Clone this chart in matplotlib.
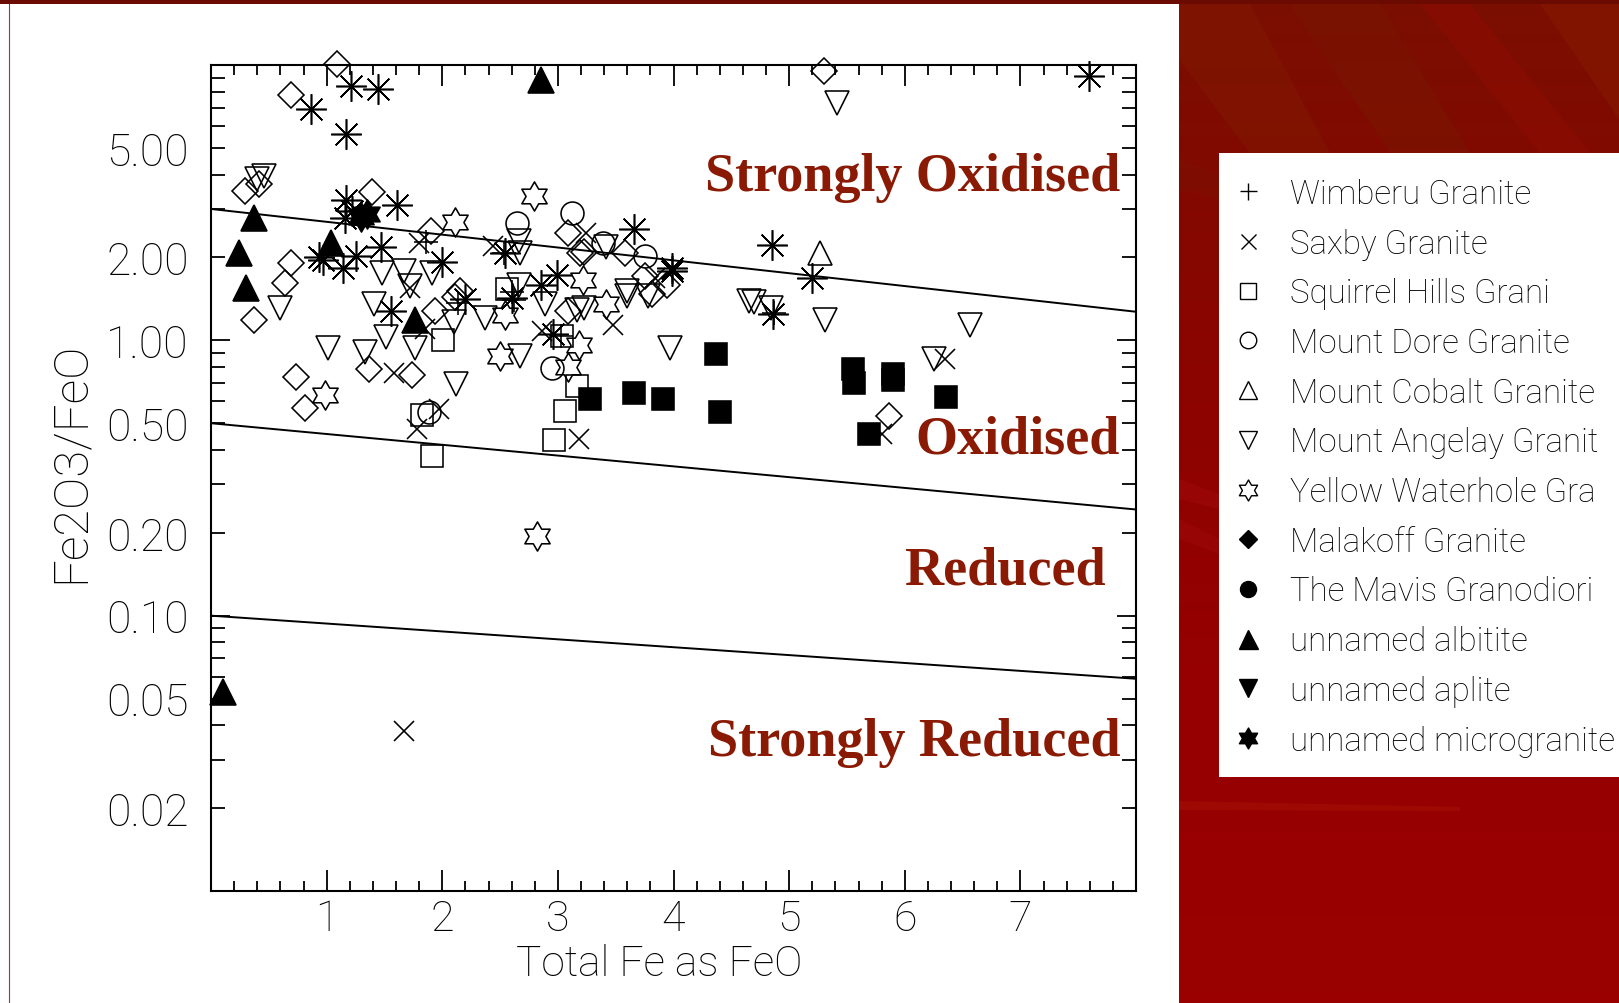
import numpy as np
import matplotlib
matplotlib.use('Agg')
import matplotlib.pyplot as plt
from matplotlib.path import Path
from matplotlib.patches import Rectangle, Polygon
from matplotlib.font_manager import FontProperties
from matplotlib.colors import LinearSegmentedColormap
from matplotlib.ticker import FixedLocator, FuncFormatter, MultipleLocator

# ---------------- data ----------------
wimberu_x = [1.86, 2.14, 2.53, 2.60, 3.03, 4.87, 2.62]
wimberu_y = [2.28, 1.37, 2.07, 1.50, 1.04, 1.26, 1.40]

saxby_x = [1.67, 1.78, 1.97, 3.18, 1.58, 5.80, 6.35, 1.80, 2.44, 3.24, 2.86, 3.48, 3.84, 1.85, 1.72]
saxby_y = [0.0382, 0.477, 0.563, 0.44, 0.764, 0.457, 0.853, 2.25, 2.20, 2.45, 1.08, 1.14, 1.69, 1.10, 1.55]

squirrel_x = [1.825, 1.91, 2.01, 2.56, 3.035, 3.165, 3.064, 2.97]
squirrel_y = [0.537, 0.379, 1.00, 1.53, 1.04, 0.684, 0.552, 0.435]

dore_x = [2.647, 3.12, 3.386, 3.755, 2.95, 1.889]
dore_y = [2.66, 2.91, 2.25, 2.03, 0.796, 0.548]

cobalt_x = [5.27]
cobalt_y = [2.07]

angelay_x = [0.40, 0.46, 0.60, 1.013, 1.33, 1.407, 1.517, 1.76, 2.12, 1.48, 1.667, 1.72,
             1.91, 2.10, 2.37, 2.66, 2.675, 2.885, 3.165, 3.60, 3.60, 3.78, 3.97, 2.66,
             2.675, 3.42, 4.65, 4.70, 4.84, 5.31, 6.56, 6.25, 5.41, 3.23]
angelay_y = [3.85, 3.95, 1.31, 0.94, 0.904, 1.35, 1.03, 0.94, 0.693, 1.76, 1.78, 1.57,
             1.76, 1.17, 1.21, 1.59, 0.879, 1.35, 1.29, 1.51, 1.45, 1.45, 0.94, 2.29,
             2.07, 2.19, 1.39, 1.38, 1.31, 1.19, 1.14, 0.853, 7.28, 1.31]

yellow_x = [0.99, 2.11, 2.79, 3.22, 2.545, 3.42, 2.50, 3.185, 3.09, 2.82]
yellow_y = [0.635, 2.70, 3.33, 1.66, 1.24, 1.35, 0.879, 0.96, 0.797, 0.195]

malakoff_x, malakoff_y = [], []
mavis_x, mavis_y = [], []

albitite_x = [0.37, 0.24, 0.30, 1.04, 1.76, 2.857, 0.108]
albitite_y = [2.78, 2.07, 1.55, 2.25, 1.19, 8.80, 0.0526]

aplite_x, aplite_y = [], []

micro_x = [1.30, 1.35]
micro_y = [2.80, 2.88]

# unlisted series (not in the legend)
diamond_x = [1.09, 0.696, 0.292, 0.419, 1.393, 1.906, 0.69, 0.644, 0.37, 0.736, 0.81,
             1.364, 1.74, 1.934, 2.113, 3.09, 3.19, 3.23, 3.58, 3.09, 3.81, 3.94, 2.157,
             3.755, 5.30, 5.86]
diamond_y = [10.1, 7.79, 3.50, 3.69, 3.47, 2.49, 1.91, 1.61, 1.19, 0.733, 0.567,
             0.785, 0.75, 1.28, 1.44, 2.45, 2.07, 2.10, 2.07, 1.28, 1.47, 1.59, 1.51,
             1.71, 9.53, 0.533]

aster_x = [0.869, 1.21, 1.445, 1.171, 1.17, 1.22, 1.16, 1.605, 1.47, 2.0, 0.97, 1.14,
           1.25, 1.555, 2.545, 2.99, 3.66, 3.99, 2.85, 2.20, 2.60, 2.96, 3.99, 7.595,
           4.85, 5.20, 4.86, 0.93]
aster_y = [6.93, 8.37, 8.19, 5.60, 3.24, 2.94, 2.78, 3.10, 2.19, 1.92, 1.96, 1.83,
           2.02, 1.28, 2.08, 1.72, 2.53, 1.83, 1.59, 1.41, 1.43, 1.05, 1.78, 9.15,
           2.22, 1.69, 1.25, 2.00]

fsquare_x = [3.28, 3.66, 3.905, 4.37, 4.40, 5.55, 5.56, 5.90, 5.90, 6.36, 5.69]
fsquare_y = [0.61, 0.645, 0.61, 0.89, 0.55, 0.785, 0.70, 0.755, 0.72, 0.62, 0.457]

# classification boundaries (value at Total FeO = 0 and 8)
bound_x = [0.0, 8.0]
bound_strong_ox = [3.0, 1.27]
bound_ox = [0.5, 0.243]
bound_red = [0.1, 0.059]

x_tick_vals = [0, 1, 2, 3, 4, 5, 6, 7, 8]
y_decades = [0.01, 0.1, 1.0, 10.0]
y_minor_vals = [k * 10.0 ** e for e in (-2, -1, 0) for k in range(2, 10)]

region_labels = ['Strongly Oxidised', 'Oxidised', 'Reduced', 'Strongly Reduced']

# ---------------- figure ----------------
W, H = 1619, 1004
plt.rcParams['font.family'] = ['Roboto', 'DejaVu Sans']
plt.rcParams['font.weight'] = 'light'
plt.rcParams['axes.labelweight'] = 'light'
fig = plt.figure(figsize=(W / 100, H / 100), dpi=100)
fig.patch.set_facecolor('#930000')

# background axes in pixel coords
bg = fig.add_axes([0, 0, 1, 1], zorder=-10)
bg.set_xlim(0, W)
bg.set_ylim(H, 0)
bg.axis('off')
grad = np.linspace(0, 1, 256).reshape(-1, 1)
cm = LinearSegmentedColormap.from_list('bgred', ['#7a0f00', '#8a0500', '#960000', '#9a0000'])
bg.imshow(grad, cmap=cm, extent=[1179, W, H, 0], aspect='auto', zorder=0)
streaks = [
    ([(1179, 5), (1250, 5), (1330, 154), (1250, 154), (1179, 60)], '#801800', 0.55),
    ([(1290, 5), (1380, 5), (1470, 154), (1390, 154)], '#7a1600', 0.55),
    ([(1420, 5), (1470, 5), (1590, 154), (1540, 154)], '#8c0c00', 0.6),
    ([(1540, 5), (1619, 5), (1619, 120)], '#851a00', 0.55),
    ([(1179, 160), (1219, 175), (1219, 200), (1179, 190)], '#7e1000', 0.5),
    ([(1179, 480), (1219, 495), (1219, 510), (1179, 500)], '#a81010', 0.35),
    ([(1179, 520), (1219, 540), (1219, 555), (1179, 540)], '#a81010', 0.3),
    ([(1179, 802), (1460, 808), (1460, 812), (1179, 811)], '#b02010', 0.3),
]
for pts, col, a in streaks:
    bg.add_patch(Polygon(pts, closed=True, facecolor=col, edgecolor='none', alpha=a, zorder=1))
# white left panel, top band, thin border line
bg.add_patch(Rectangle((0, 5), 1179, H - 5, facecolor='white', edgecolor='none', zorder=2))
bg.add_patch(Rectangle((0, 0), W, 5, facecolor='#6a0a00', edgecolor='none', zorder=3))
bg.plot([8.5, 8.5], [5, H], color='#a83030', lw=0.8, zorder=3)
# legend box
bg.add_patch(Rectangle((1219, 154), W - 1219, 778 - 154, facecolor='white', edgecolor='none', zorder=3))

# main axes
ax = fig.add_axes([211 / W, 1 - 892 / H, 925 / W, 826 / H])
ax.set_facecolor('white')
ax.set_xlim(0, 8)
ax.set_yscale('log')
ax.set_ylim(0.01, 10)

hexagram = Path.unit_regular_star(6, innerCircle=0.577)
asterisk = (8, 2, 0)
mew = 1.15

def pl(x, y, marker, ms, filled, label=None):
    ax.plot(x, y, linestyle='none', marker=marker, ms=ms,
            mfc='black' if filled else 'none', mec='black', mew=mew,
            clip_on=False, label=label, zorder=3)

pl(wimberu_x, wimberu_y, '+', 17, False, 'Wimberu Granite')
pl(saxby_x, saxby_y, 'x', 15, False, 'Saxby Granite')
pl(squirrel_x, squirrel_y, 's', 15.5, False, 'Squirrel Hills Grani')
pl(dore_x, dore_y, 'o', 16.5, False, 'Mount Dore Granite')
pl(cobalt_x, cobalt_y, '^', 17.5, False, 'Mount Cobalt Granite')
pl(angelay_x, angelay_y, 'v', 17.5, False, 'Mount Angelay Granit')
pl(yellow_x, yellow_y, hexagram, 21, False, 'Yellow Waterhole Gra')
pl(malakoff_x, malakoff_y, 'D', 13, True, 'Malakoff Granite')
pl(mavis_x, mavis_y, 'o', 16, True, 'The Mavis Granodiori')
pl(albitite_x, albitite_y, '^', 19, True, 'unnamed albitite')
pl(aplite_x, aplite_y, 'v', 18, True, 'unnamed aplite')
pl(micro_x, micro_y, hexagram, 21, True, 'unnamed microgranite')
pl(diamond_x, diamond_y, 'D', 13.5, False)
pl(aster_x, aster_y, asterisk, 22, False)
pl(fsquare_x, fsquare_y, 's', 15.5, True)

for yv in (bound_strong_ox, bound_ox, bound_red):
    ax.plot(bound_x, yv, color='black', lw=1.4, zorder=2)

# ticks
ax.xaxis.set_major_locator(FixedLocator(x_tick_vals))
ax.xaxis.set_major_formatter(FuncFormatter(lambda v, p: '' if v in (0, 8) else f'{int(round(v))}'))
ax.xaxis.set_minor_locator(MultipleLocator(0.2))
ax.yaxis.set_major_locator(FixedLocator(y_decades))
ax.yaxis.set_major_formatter(FuncFormatter(lambda v, p: f'{v:.2f}' if 0.05 < v < 5 else ''))
ax.yaxis.set_minor_locator(FixedLocator(y_minor_vals))

def minor_fmt(v, p):
    lead = round(v / 10 ** np.floor(np.log10(v) + 1e-9))
    return f'{v:.2f}' if lead in (2, 5) else ''

ax.yaxis.set_minor_formatter(FuncFormatter(minor_fmt))
ax.tick_params(axis='x', which='major', direction='in', length=15, width=1.3,
               top=True, bottom=True, pad=5, labelsize=31)
ax.tick_params(axis='x', which='minor', direction='in', length=7.5, width=1.3,
               top=True, bottom=True)
ax.tick_params(axis='y', which='major', direction='in', length=13.5, width=1.3,
               left=True, right=True, pad=16, labelsize=32)
ax.tick_params(axis='y', which='minor', direction='in', length=10, width=1.3,
               left=True, right=True, pad=16, labelsize=32)
for s in ax.spines.values():
    s.set_linewidth(1.5)

ax.set_xlabel('Total Fe as FeO', fontsize=30.5, fontweight='light')
ax.set_ylabel('Fe2O3/FeO', fontsize=35, fontweight='light')
ax.xaxis.set_label_coords((659 - 211) / 925, (892 - 965) / 826)
ax.xaxis.label.set_va('center')
ax.yaxis.set_label_coords((70 - 211) / 925, (892 - 462) / 826)
ax.yaxis.label.set_va('center')

# region labels
lab_kw = dict(transform=ax.transAxes, ha='right', va='baseline', fontsize=39,
              fontweight='bold', family='Liberation Serif', color='#8b1a04', zorder=4)
ax.text((1120 - 211) / 925, (892 - 191) / 826, region_labels[0], **lab_kw)
ax.text((1120 - 211) / 925, (892 - 454) / 826, region_labels[1], **lab_kw)
ax.text((1106 - 211) / 925, (892 - 585) / 826, region_labels[2], **lab_kw)
ax.text((1120 - 211) / 925, (892 - 756) / 826, region_labels[3], **lab_kw)

# legend
handles, labels = ax.get_legend_handles_labels()
leg = fig.legend(handles, labels, loc='upper left',
                 bbox_to_anchor=(1224 / W, 1 - 179 / H), bbox_transform=fig.transFigure,
                 frameon=False, prop=FontProperties(family=['Roboto', 'DejaVu Sans'], weight='light', size=23.8),
                 handlelength=1.45, handletextpad=0.55, borderpad=0, borderaxespad=0,
                 labelspacing=0.535, markerscale=0.72, numpoints=1)
for h in leg.legend_handles:
    h.set_markeredgewidth(1.0)

fig.savefig('out.png', dpi=100)
